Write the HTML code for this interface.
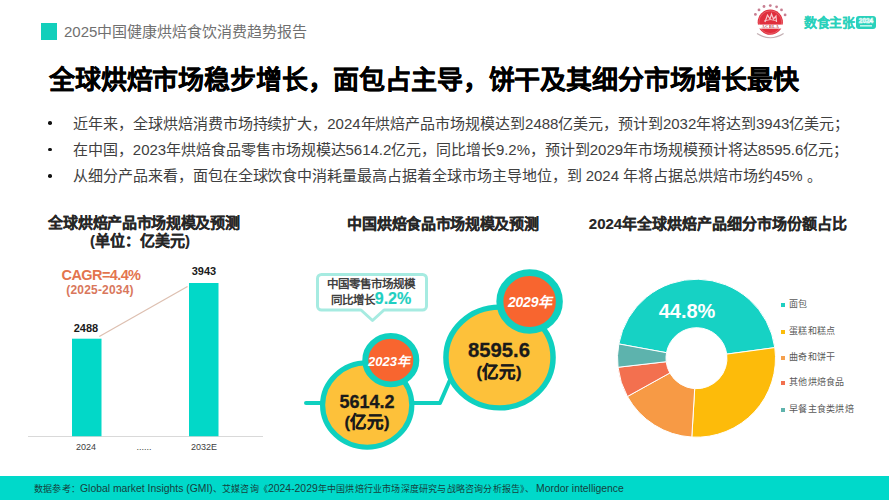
<!DOCTYPE html>
<html lang="zh-CN"><head><meta charset="utf-8">
<style>
html,body{margin:0;padding:0;background:#fff;}
body{width:889px;height:500px;overflow:hidden;position:relative;font-family:"Liberation Sans",sans-serif;}
.a{position:absolute;white-space:nowrap;line-height:1;}
.b{font-weight:bold;}
.c{text-align:center;}
.t{-webkit-text-stroke:0.15px #262626}
.n{color:#1a1a1a;-webkit-text-stroke:0.3px #1a1a1a}
.lt{font-size:10.4px;letter-spacing:0;font-weight:normal}
</style></head><body>
<!-- header -->
<div class="a" style="left:41px;top:23px;width:16px;height:17px;background:#12cfbb"></div>
<div class="a" id="hdr" style="left:64px;top:24px;font-size:15px;color:#707070">2025中国健康烘焙食饮消费趋势报告</div>

<!-- logos -->
<svg class="a" style="left:750px;top:0px" width="40" height="45" viewBox="750 0 40 45">
  <g fill="#b5546e" opacity="0.75">
    <circle cx="755.4" cy="14.4" r="1.4"/><circle cx="759" cy="9.9" r="1.4"/><circle cx="764" cy="6.5" r="1.4"/>
    <circle cx="770.3" cy="5.6" r="1.4"/><circle cx="776.6" cy="6.8" r="1.4"/><circle cx="781.5" cy="9.9" r="1.4"/><circle cx="785.1" cy="14.9" r="1.4"/>
  </g>
  <circle cx="770.3" cy="22.2" r="12.6" fill="#e02e3c"/><circle cx="770.3" cy="22.2" r="11.4" fill="none" stroke="#f08a92" stroke-width="0.5"/>
  <path d="M765,22 l2.5,-7 l2.5,4 l1.5,-5 l2,5 l2.5,-3 l0.5,6" stroke="#fbd6da" stroke-width="1.2" fill="none" opacity="0.9"/>
  <path d="M764,21 q6.5,-3 13,0" stroke="#f8c8cc" stroke-width="1" fill="none" opacity="0.8"/>
  <rect x="757" y="24.6" width="27" height="4" fill="#fff"/>
  <text x="770.5" y="28.2" font-family="Liberation Serif" font-size="4.2" font-weight="bold" fill="#b8303a" text-anchor="middle" letter-spacing="0.6">ACBLA</text>
  <path d="M757,33.5 q13.3,8.5 26.6,0" stroke="#c4b0b4" stroke-width="1.2" fill="none"/>
</svg>
<div class="a b" style="left:804px;top:16px;font-size:13px;letter-spacing:-0.3px;color:#29d1bb;-webkit-text-stroke:0.1px #29d1bb">数食主张</div>
<svg class="a" style="left:856px;top:15.5px" width="20" height="13" viewBox="0 0 20 13">
  <rect x="0" y="0" width="20" height="13" rx="3" fill="#29d1bb"/>
  <text x="10" y="7" font-family="Liberation Sans" font-size="6.5" font-weight="bold" fill="none" stroke="#fff" stroke-width="0.6" text-anchor="middle">2024</text>
  <rect x="4" y="9" width="12" height="1.6" fill="#bff3ea"/>
</svg>

<!-- title -->
<div class="a b" id="title" style="left:49px;top:67px;font-size:26px;letter-spacing:-0.14px;-webkit-text-stroke:0.25px #000;color:#000">全球烘焙市场稳步增长，面包占主导，饼干及其细分市场增长最快</div>

<!-- bullets -->
<div class="a" style="left:48.2px;top:121.4px;width:3.6px;height:3.6px;border-radius:50%;background:#111"></div>
<div class="a" style="left:48.2px;top:147.8px;width:3.6px;height:3.6px;border-radius:50%;background:#111"></div>
<div class="a" style="left:48.2px;top:174.0px;width:3.6px;height:3.6px;border-radius:50%;background:#111"></div>
<div class="a" id="l1" style="left:73px;top:116px;font-size:15px;letter-spacing:-0.04px;color:#404040">近年来，全球烘焙消费市场持续扩大，2024年烘焙产品市场规模达到2488亿美元，预计到2032年将达到3943亿美元；</div>
<div class="a" id="l2" style="left:73px;top:142px;font-size:15px;letter-spacing:-0.04px;color:#404040">在中国，2023年烘焙食品零售市场规模达5614.2亿元，同比增长9.2%，预计到2029年市场规模预计将达8595.6亿元；</div>
<div class="a" id="l3" style="left:73px;top:168px;font-size:15px;letter-spacing:-0.04px;color:#404040">从细分产品来看，面包在全球饮食中消耗量最高占据着全球市场主导地位，到 2024 年将占据总烘焙市场约45% 。</div>

<!-- chart titles -->
<div class="a b c t" style="left:44px;top:215px;width:200px;font-size:15px;color:#262626;letter-spacing:-0.3px">全球烘焙产品市场规模及预测</div>
<div class="a b c t" style="left:40px;top:233px;width:200px;font-size:15px;color:#262626">(单位：亿美元)</div>
<div class="a b c t" style="left:343px;top:216px;width:200px;font-size:15px;color:#262626;letter-spacing:-0.3px">中国烘焙食品市场规模及预测</div>
<div class="a b c t" style="left:568px;top:216px;width:300px;font-size:15px;color:#262626">2024年全球烘焙产品细分市场份额占比</div>

<!-- left chart -->
<svg class="a" style="left:0;top:250px" width="300" height="210" viewBox="0 250 300 210">
  <line x1="28" y1="436.5" x2="263" y2="436.5" stroke="#d9d9d9" stroke-width="1"/>
  <rect x="72" y="338.7" width="29.5" height="97.5" fill="#02d8c8"/>
  <rect x="189" y="283" width="29.5" height="153.2" fill="#02d8c8"/>
  <line x1="99.3" y1="336.4" x2="187.5" y2="286.5" stroke="#ddbfb0" stroke-width="1.2"/>
</svg>
<div class="a b c" style="left:51px;top:268px;width:100px;font-size:14.5px;color:#e3744e;letter-spacing:-0.6px">CAGR=4.4%</div>
<div class="a b c" style="left:50px;top:284px;width:100px;font-size:12px;color:#d9775c;letter-spacing:0.2px">(2025-2034)</div>
<div class="a b c" style="left:56px;top:323px;width:60px;font-size:11px;color:#1a1a1a">2488</div>
<div class="a b c" style="left:174px;top:266px;width:60px;font-size:11px;color:#1a1a1a">3943</div>
<div class="a c" style="left:56px;top:443px;width:60px;font-size:9px;color:#404040">2024</div>
<div class="a c" style="left:114px;top:443px;width:60px;font-size:9px;color:#404040">......</div>
<div class="a c" style="left:174px;top:443px;width:60px;font-size:9px;color:#404040">2032E</div>

<!-- middle chart -->
<svg class="a" style="left:290px;top:260px" width="290" height="200" viewBox="290 260 290 200">
  <polyline points="306,403 440,403 450,380" fill="none" stroke="#0fd0bf" stroke-width="4" stroke-linecap="round" stroke-linejoin="round"/>
  <path d="M321.5,274.5 h101 a4,4 0 0 1 4,4 v27.5 a4,4 0 0 1 -4,4 h-38.5 l-11.5,10.5 l-11.5,-10.5 h-39.5 a4,4 0 0 1 -4,-4 v-27.5 a4,4 0 0 1 4,-4 z" fill="#fff" stroke="#a6ebe1" stroke-width="3" stroke-linejoin="round"/>
  <circle r="44.6" fill="#fdc13a" stroke="#0fd0bf" stroke-width="5.2" transform="translate(367.2 405) scale(1 0.947)"/>
  <circle r="25.5" fill="#f8652f" stroke="#0fd0bf" stroke-width="6" transform="translate(390.8 360.2) scale(1 0.951)"/>
  <circle r="53.55" fill="#fdc13a" stroke="#0fd0bf" stroke-width="5.5" transform="translate(499.5 357.5) scale(1 0.941)"/>
  <circle r="29.75" fill="#f8652f" stroke="#0fd0bf" stroke-width="7" transform="translate(529.6 301.5) scale(1 0.968)"/>
</svg>
<div class="a b c" style="left:321px;top:279px;width:100px;font-size:11.5px;color:#404040">中国零售市场规模</div>
<div class="a b c" style="left:321px;top:291px;width:100px;font-size:11.5px;color:#404040">同比增长<span style="color:#1fcfc1;font-size:16px;-webkit-text-stroke:0.2px #1fcfc1">9.2%</span></div>
<div class="a b c" style="left:339px;top:355px;width:100px;font-size:13px;color:#fff;font-style:italic">2023年</div>
<div class="a b c n" style="left:317px;top:393px;width:100px;font-size:18px">5614.2</div>
<div class="a b c n" style="left:317px;top:413.5px;width:100px;font-size:16.5px">(亿元)</div>
<div class="a b c" style="left:480px;top:295px;width:100px;font-size:14px;letter-spacing:-0.2px;color:#fff;font-style:italic">2029年</div>
<div class="a b c n" style="left:449px;top:339.5px;width:100px;font-size:20.3px">8595.6</div>
<div class="a b c n" style="left:449px;top:363.5px;width:100px;font-size:16.5px">(亿元)</div>

<!-- right chart -->
<svg class="a" id="pie" style="left:600px;top:260px" width="289" height="200" viewBox="600 260 289 200">
<path d="M618.80,343.94 A79,79 0 0 1 774.79,347.62 L726.72,354.11 A30.5,30.5 0 0 0 666.50,352.69 Z" fill="#16d2c4" stroke="#fff" stroke-width="1"/>
<path d="M774.79,347.62 A79,79 0 0 1 691.81,437.06 L694.69,388.65 A30.5,30.5 0 0 0 726.72,354.11 Z" fill="#fdbb0a" stroke="#fff" stroke-width="1"/>
<path d="M691.81,437.06 A79,79 0 0 1 627.41,396.50 L669.82,372.99 A30.5,30.5 0 0 0 694.69,388.65 Z" fill="#f79a45" stroke="#fff" stroke-width="1"/>
<path d="M627.41,396.50 A79,79 0 0 1 618.02,367.28 L666.20,361.71 A30.5,30.5 0 0 0 669.82,372.99 Z" fill="#f3704f" stroke="#fff" stroke-width="1"/>
<path d="M618.02,367.28 A79,79 0 0 1 618.80,343.94 L666.50,352.69 A30.5,30.5 0 0 0 666.20,361.71 Z" fill="#5db3ad" stroke="#fff" stroke-width="1"/>
</svg>
<div class="a b c" style="left:637px;top:301px;width:100px;font-size:20px;color:#fff">44.8%</div>
<div class="a" style="left:781px;top:303px;width:4px;height:4px;background:#1fcfc1"></div>
<div class="a" style="left:781px;top:330px;width:4px;height:4px;background:#fbbc0b"></div>
<div class="a" style="left:781px;top:356px;width:4px;height:4px;background:#f5a04d"></div>
<div class="a" style="left:781px;top:381px;width:4px;height:4px;background:#f2704f"></div>
<div class="a" style="left:781px;top:408px;width:4px;height:4px;background:#5fb3ad"></div>
<div class="a" style="left:789px;top:300px;font-size:9px;letter-spacing:0.3px;color:#595959">面包</div>
<div class="a" style="left:789px;top:327px;font-size:9px;letter-spacing:0.3px;color:#595959">蛋糕和糕点</div>
<div class="a" style="left:789px;top:353px;font-size:9px;letter-spacing:0.3px;color:#595959">曲奇和饼干</div>
<div class="a" style="left:789px;top:378px;font-size:9px;letter-spacing:0.3px;color:#595959">其他烘焙食品</div>
<div class="a" style="left:789px;top:405px;font-size:9px;letter-spacing:0.3px;color:#595959">早餐主食类烘焙</div>

<!-- footer -->
<div class="a" style="left:0;top:476px;width:889px;height:24px;background:#00d9ca"></div>
<div class="a" id="foot" style="left:34px;top:484px;font-size:9px;letter-spacing:0.2px;color:#16413d;font-weight:500">数据参考：<span class="lt">Global market Insights (GMI)</span>、艾媒咨询《<span class="lt">2024-2029</span>年中国烘焙行业市场深度研究与战略咨询分析报告》、<span class="lt" style="margin-left:1.5px">Mordor intelligence</span></div>
</body></html>
